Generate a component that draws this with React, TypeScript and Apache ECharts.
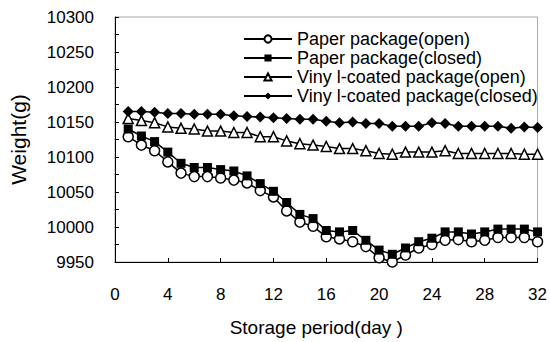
import React, { useEffect, useRef } from "react";
import * as echarts from "echarts";

const days = [1, 2, 3, 4, 5, 6, 7, 8, 9, 10, 11, 12, 13, 14, 15, 16, 17, 18, 19, 20, 21, 22, 23, 24, 25, 26, 27, 28, 29, 30, 31, 32];

const paperOpen = [10129, 10117, 10109, 10093, 10077, 10072, 10072, 10070, 10067, 10063, 10052, 10043, 10023, 10007, 10001, 9986, 9983, 9979, 9972, 9956, 9950, 9960, 9970, 9975, 9981, 9982, 9979, 9981, 9985, 9985, 9985, 9979];
const paperClosed = [10140, 10130, 10122, 10107, 10091, 10085, 10085, 10082, 10080, 10073, 10062, 10051, 10035, 10018, 10012, 9995, 9993, 9995, 9981, 9967, 9961, 9970, 9979, 9984, 9993, 9993, 9990, 9993, 9997, 9997, 9997, 9993];
const vinylOpen = [10155, 10152, 10149, 10143, 10141, 10140, 10137, 10137, 10135, 10135, 10129, 10129, 10123, 10119, 10117, 10115, 10112, 10112, 10109, 10105, 10104, 10107, 10107, 10107, 10109, 10105, 10105, 10105, 10105, 10105, 10104, 10104];
const vinylClosed = [10165, 10165, 10164, 10162, 10162, 10161, 10161, 10161, 10159, 10158, 10157, 10156, 10155, 10154, 10154, 10151, 10149, 10150, 10148, 10148, 10144, 10144, 10144, 10149, 10148, 10144, 10144, 10144, 10144, 10141, 10143, 10142];

const seriesNames = [
  "Paper package(open)",
  "Paper package(closed)",
  "Viny l-coated package(open)",
  "Viny l-coated package(closed)",
];

const xTitle = "Storage period(day )";
const yTitle = "Weight(g)";

const FONT = "'Liberation Sans', Arial, sans-serif";

function pairs(vals: number[]) {
  return days.map((d, i) => [d, vals[i]]);
}

export default function App() {
  const ref = useRef<HTMLDivElement>(null);
  useEffect(() => {
    const chart = echarts.init(ref.current!, undefined, { renderer: "svg" });
    const mk = (name: string, vals: number[], symbol: string, open: boolean, size: number) => ({
      name,
      type: "line",
      data: pairs(vals),
      symbol,
      symbolSize: size,
      showAllSymbol: true,
      clip: false,
      lineStyle: { color: "#000", width: 1.5 },
      itemStyle: open
        ? { color: "#fff", borderColor: "#000", borderWidth: 1.5 }
        : { color: "#000", borderColor: "#000", borderWidth: 0 },
      emphasis: { disabled: true },
    });
    chart.setOption({
      animation: false,
      textStyle: { fontFamily: FONT },
      grid: {
        left: 107,
        right: 9,
        top: 17,
        bottom: 74,
        show: true,
        borderColor: "#aaa",
        borderWidth: 1,
      },
      legend: {
        orient: "vertical",
        left: 238,
        top: 25,
        itemWidth: 48,
        itemHeight: 9,
        itemGap: 1,
        itemTextGap: 3,
        data: seriesNames,
        textStyle: { fontFamily: FONT, fontSize: 18, color: "#000" },
      },
      xAxis: {
        type: "value",
        min: 0,
        max: 32,
        interval: 4,
        name: xTitle,
        nameLocation: "middle",
        nameGap: 56,
        nameTextStyle: { fontFamily: FONT, fontSize: 19, color: "#000", padding: [0, 20, 0, 0] },
        axisLine: { show: true, lineStyle: { color: "#000", width: 1 } },
        axisTick: { show: true, inside: true, length: 4, lineStyle: { color: "#000" } },
        axisLabel: { fontFamily: FONT, fontSize: 17, color: "#000", margin: 24 },
        splitLine: { show: false },
      },
      yAxis: {
        type: "value",
        min: 9950,
        max: 10300,
        interval: 50,
        name: yTitle,
        nameLocation: "middle",
        nameGap: 86,
        nameTextStyle: { fontFamily: FONT, fontSize: 21, color: "#000" },
        axisLine: { show: true, lineStyle: { color: "#000", width: 1 } },
        axisTick: { show: true, inside: true, length: 4, lineStyle: { color: "#000" } },
        minorTick: { show: true, splitNumber: 2, length: 4, lineStyle: { color: "#000" } },
        axisLabel: { fontFamily: FONT, fontSize: 17, color: "#000", margin: 21, formatter: (v: number) => String(v) },
        splitLine: { show: false },
      },
      series: [
        mk(seriesNames[0], paperOpen, "circle", true, 10),
        mk(seriesNames[1], paperClosed, "rect", false, 9),
        mk(seriesNames[2], vinylOpen, "triangle", true, 10),
        mk(seriesNames[3], vinylClosed, "diamond", false, 11),
      ],
    });
    return () => chart.dispose();
  }, []);
  return <div ref={ref} style={{ position: "absolute", left: 0, top: 0, width: 550, height: 342 }} />;
}
